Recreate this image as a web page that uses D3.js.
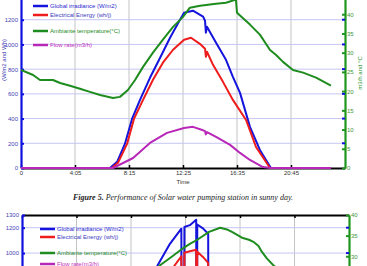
<!DOCTYPE html>
<html>
<head>
<meta charset="utf-8">
<script src="https://cdn.jsdelivr.net/npm/d3@7"></script>
<style>
body { margin: 0; background: #fff; }
svg { display: block; font-family: "Liberation Sans", Arial, sans-serif; }
</style>
</head>
<body>
<div id="chart"></div>
<script>
var width = 367;
var height = 266;

// x axis: minutes since midnight, labelled like the original figure
var timeTicks = [0, 250, 500, 750, 1000, 1250];
var timeLabels = ["0", "4:05", "8:15", "12:25", "16:35", "20:45"];
var seriesNames = ["Global irradiance (W/m2)", "Electrical Energy (wh/j)", "Ambiante temperature(\u00b0C)", "Flow rate(m3/h)"];

// Figure 5 - sunny day  [minute, value]
var sunnyIrradiance = [[0,0],[412,0],[445,50],[481,195],[514,397],[551,551],[597,730],[644,892],[690,1054],[736,1200],[755,1257],[796,1273],[843,1225],[852,1192],[856,1095],[861,1143],[903,1014],[949,876],[981,738],[1014,608],[1060,333],[1106,146],[1157,0],[1435,0]];
var sunnyEnergy = [[0,0],[421,0],[450,45],[491,195],[523,397],[565,551],[611,714],[657,852],[704,957],[755,1038],[787,1054],[833,998],[852,965],[856,900],[861,941],[889,835],[935,697],[981,551],[1042,389],[1088,170],[1153,0],[1435,0]];
var sunnyTemperature = [[0,25.5],[56,24.2],[88,22.9],[148,22.9],[181,22.1],[227,21.4],[273,20.6],[319,19.8],[366,19.0],[426,18.2],[458,18.5],[495,20.3],[528,22.9],[565,26.3],[611,30.0],[657,33.4],[704,36.7],[750,39.3],[782,41.7],[829,42.2],[903,42.7],[949,43.0],[995,43.8],[1000,40.4],[1060,37.3],[1106,34.7],[1153,30.7],[1181,29.4],[1213,27.6],[1259,25.5],[1306,24.8],[1366,23.5],[1435,21.4]];
var sunnyFlow = [[0,0],[426,0],[519,81],[597,203],[676,284],[755,324],[796,333],[843,305],[852,298],[856,272],[861,290],[903,251],[968,187],[1014,122],[1060,65],[1120,8],[1157,0],[1435,0]];

// next figure (only its top is visible)
var cloudyIrradiance = [[0,0],[402,0],[539,474],[621,900],[676,1066],[731,1192],[732,420],[744,420],[745,1205],[770,1220],[799,1263],[800,450],[803,450],[804,1225],[830,1195],[854,1152],[855,560],[950,420],[1050,230],[1160,0],[1435,0]];
var cloudyEnergy = [[0,0],[420,0],[560,420],[640,760],[699,900],[731,975],[732,330],[744,330],[745,1002],[770,1015],[799,1026],[800,340],[803,340],[804,1010],[830,970],[854,923],[855,430],[950,330],[1050,180],[1160,0],[1435,0]];
var cloudyTemperature = [[0,22.0],[120,21.0],[250,20.0],[400,19.2],[480,20.5],[560,24.0],[630,27.7],[690,30.0],[735,31.8],[770,33.0],[804,34.0],[858,35.9],[909,36.9],[940,36.5],[963,35.9],[1009,34.5],[1041,34.0],[1064,33.4],[1085,32.5],[1100,31.1],[1123,29.5],[1155,27.7],[1250,24.5],[1435,21.5]];
var cloudyFlow = [[0,0],[430,0],[550,120],[650,250],[731,300],[732,0],[744,0],[745,305],[799,310],[800,0],[803,0],[804,300],[854,280],[855,100],[1000,50],[1150,0],[1435,0]];

var sunnyPowerTicks = [0, 200, 400, 600, 800, 1000, 1200];
var cloudyPowerTicks = [1000, 1200, 1300];
var sunnyTempTicks = [0, 5, 10, 15, 20, 25, 30, 35, 40];
var cloudyTempTicks = [30, 35, 40];

var colors = ["#1414dc", "#ee1c1c", "#1e8c1e", "#b828b8"];

window.onload = start;

function start() {
	var svg = d3.select("#chart")
		.append("svg")
		.attr("width", width)
		.attr("height", height);

	drawChart(svg, {
		id: "c1", left: 21, right: 345, top: -5, bottom: 168,
		powerMax: 1400, tempMax: 45,
		powerTicks: sunnyPowerTicks, tempTicks: sunnyTempTicks,
		series: [sunnyIrradiance, sunnyEnergy, sunnyTemperature, sunnyFlow],
		legendX: 33, legendY: [6, 15, 31, 45],
		bottomAxis: true, topAxis: false
	});

	// caption
	var cap = svg.append("text")
		.attr("x", 183)
		.attr("y", 200)
		.attr("text-anchor", "middle")
		.style("font-family", "'Liberation Serif', 'Times New Roman', serif")
		.style("font-style", "italic")
		.style("font-size", "8px")
		.attr("fill", "#222");
	cap.append("tspan").style("font-weight", "bold").text("Figure 5.");
	cap.append("tspan").text(" Performance of Solar water pumping station in sunny day.");

	drawChart(svg, {
		id: "c2", left: 22, right: 349, top: 215, bottom: 380,
		powerMax: 1300, tempMax: 40,
		powerTicks: cloudyPowerTicks, tempTicks: cloudyTempTicks,
		series: [cloudyIrradiance, cloudyEnergy, cloudyTemperature, cloudyFlow],
		legendX: 40, legendY: [229, 237, 253, 264],
		bottomAxis: false, topAxis: true
	});
}

function drawChart(svg, cfg) {
	var xScale = d3.scaleLinear().domain([0, 1500]).range([cfg.left, cfg.right]);
	var yPower = d3.scaleLinear().domain([0, cfg.powerMax]).range([cfg.bottom, cfg.top]);
	var yTemp = d3.scaleLinear().domain([0, cfg.tempMax]).range([cfg.bottom, cfg.top]);

	var gridValues = cfg.powerTicks.filter(function(d) { return d > 0 && d < cfg.powerMax && d % 200 == 0; });

	var g = svg.append("g");

	// grid lines
	g.selectAll("line.vgrid")
		.data(timeTicks.slice(1))
		.enter().append("line")
		.attr("x1", function(d) { return xScale(d); })
		.attr("x2", function(d) { return xScale(d); })
		.attr("y1", cfg.top)
		.attr("y2", cfg.bottom)
		.attr("stroke", "#c4c4c4")
		.attr("stroke-width", 1);

	g.selectAll("line.hgrid")
		.data(gridValues)
		.enter().append("line")
		.attr("x1", cfg.left)
		.attr("x2", cfg.right)
		.attr("y1", function(d) { return yPower(d); })
		.attr("y2", function(d) { return yPower(d); })
		.attr("stroke", "#c6c6f4")
		.attr("stroke-width", 1);

	// x axis (bottom or top)
	if (cfg.bottomAxis) {
		var xAxis = d3.axisBottom(xScale)
			.tickValues(timeTicks)
			.tickFormat(function(d, i) { return timeLabels[i]; })
			.tickSize(-3).tickSizeOuter(0).tickPadding(3);
		var ax = g.append("g")
			.attr("transform", "translate(0," + cfg.bottom + ")")
			.call(xAxis);
		ax.select(".domain").attr("stroke", "#000").attr("stroke-width", 2.2);
		ax.selectAll(".tick line").attr("stroke", "#000").attr("stroke-width", 1.5);
		ax.selectAll(".tick text").style("font-size", "6px").attr("fill", "#333");

		g.append("text")
			.attr("x", 183)
			.attr("y", cfg.bottom + 16)
			.attr("text-anchor", "middle")
			.style("font-size", "6px")
			.attr("fill", "#333")
			.text("Time");
	}
	if (cfg.topAxis) {
		var tAxis = d3.axisTop(xScale)
			.tickValues(timeTicks)
			.tickFormat("")
			.tickSize(-3).tickSizeOuter(0);
		var at = g.append("g")
			.attr("transform", "translate(0," + cfg.top + ")")
			.call(tAxis);
		at.select(".domain").attr("stroke", "#000").attr("stroke-width", 2.2);
		at.selectAll(".tick line").attr("stroke", "#000").attr("stroke-width", 1.5);
	}

	// left axis (W/m2 and Wh)
	var leftAxis = d3.axisLeft(yPower)
		.tickValues(cfg.powerTicks)
		.tickFormat(d3.format("d"))
		.tickSize(-3).tickSizeOuter(0).tickPadding(3);
	var al = g.append("g")
		.attr("transform", "translate(" + cfg.left + ",0)")
		.call(leftAxis);
	al.select(".domain").attr("stroke", "#1010e0").attr("stroke-width", 2.2);
	al.selectAll(".tick line").attr("stroke", "#1010e0").attr("stroke-width", 2);
	al.selectAll(".tick text").style("font-size", "6px").attr("fill", "#4646b4");

	// right axis (m3/h and degC)
	var rightAxis = d3.axisRight(yTemp)
		.tickValues(cfg.tempTicks)
		.tickFormat(d3.format("d"))
		.tickSize(-3).tickSizeOuter(0).tickPadding(2);
	var ar = g.append("g")
		.attr("transform", "translate(" + cfg.right + ",0)")
		.call(rightAxis);
	ar.select(".domain").attr("stroke", "#1e961e").attr("stroke-width", 2.2);
	ar.selectAll(".tick line").attr("stroke", "#1e961e").attr("stroke-width", 2);
	ar.selectAll(".tick text").style("font-size", "6px").attr("fill", "#3c963c");

	// left ticks repeated on the right side
	g.selectAll("line.rtick")
		.data(gridValues)
		.enter().append("line")
		.attr("x1", cfg.right - 3)
		.attr("x2", cfg.right)
		.attr("y1", function(d) { return yPower(d); })
		.attr("y2", function(d) { return yPower(d); })
		.attr("stroke", "#1010e0")
		.attr("stroke-width", 2);

	// axis titles
	if (cfg.bottomAxis) {
		g.append("text")
			.attr("transform", "translate(6,60) rotate(-90)")
			.attr("text-anchor", "middle")
			.style("font-size", "6px")
			.attr("fill", "#3a3ab0")
			.text("(W/m2 and Wh)");
		g.append("text")
			.attr("transform", "translate(362,73) rotate(-90)")
			.attr("text-anchor", "middle")
			.style("font-size", "6px")
			.attr("fill", "#2e962e")
			.text("m3/h and \u00b0C");
	}

	// series
	var clipId = "clip-" + cfg.id;
	svg.append("clipPath").attr("id", clipId)
		.append("rect")
		.attr("x", cfg.left)
		.attr("y", cfg.top)
		.attr("width", cfg.right - cfg.left)
		.attr("height", cfg.bottom - cfg.top + 2);

	var linePower = d3.line()
		.x(function(d) { return xScale(d[0]); })
		.y(function(d) { return yPower(d[1]); });
	var lineTemp = d3.line()
		.x(function(d) { return xScale(d[0]); })
		.y(function(d) { return yTemp(d[1]); });

	var lines = g.append("g").attr("clip-path", "url(#" + clipId + ")");
	[0, 1, 2, 3].forEach(function(i) {
		lines.append("path")
			.datum(cfg.series[i])
			.attr("d", i == 2 ? lineTemp : linePower)
			.attr("fill", "none")
			.attr("stroke", colors[i])
			.attr("stroke-width", 2)
			.attr("stroke-linejoin", "round");
	});

	// legend
	var textColors = ["#2a2ad0", "#3c3cc0", "#1e8c1e", "#c030c0"];
	seriesNames.forEach(function(name, i) {
		g.append("line")
			.attr("x1", cfg.legendX)
			.attr("x2", cfg.legendX + 15)
			.attr("y1", cfg.legendY[i])
			.attr("y2", cfg.legendY[i])
			.attr("stroke", colors[i])
			.attr("stroke-width", 2.5);
		g.append("text")
			.attr("x", cfg.legendX + 17)
			.attr("y", cfg.legendY[i])
			.attr("dy", "0.35em")
			.style("font-size", "6px")
			.attr("fill", textColors[i])
			.text(name);
	});
}
</script>
</body>
</html>
